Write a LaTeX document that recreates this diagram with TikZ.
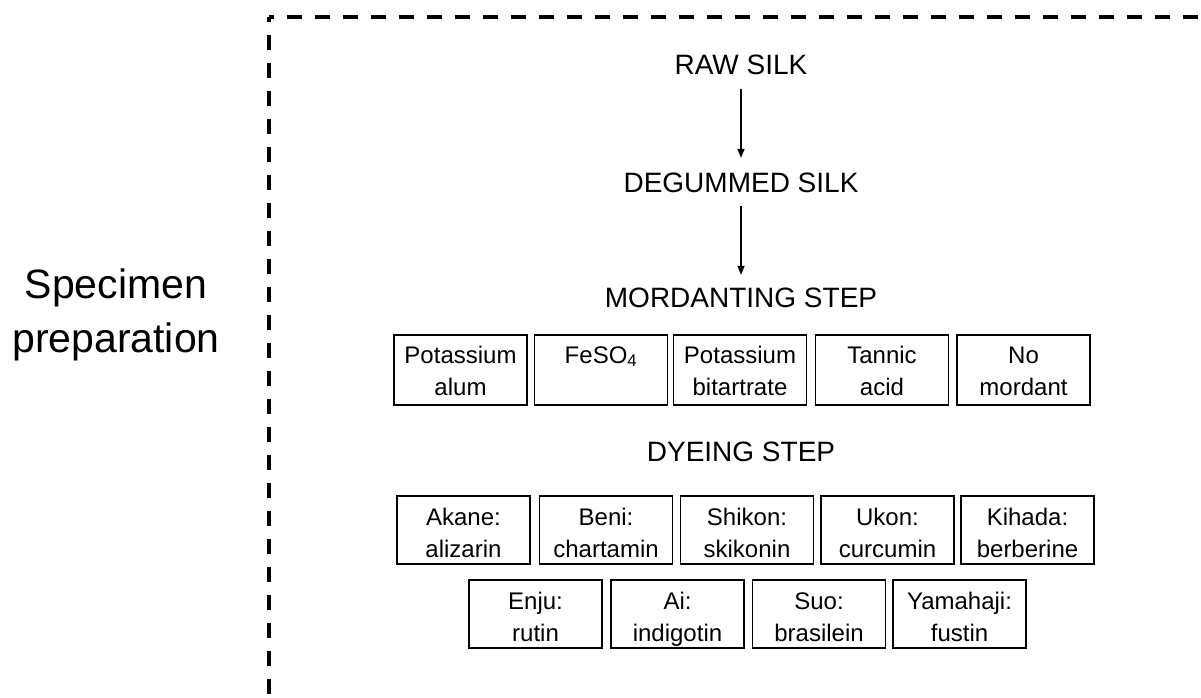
\documentclass[tikz,border=0pt]{standalone}
\usepackage{fontspec}
\setmainfont{Liberation Sans}
\usetikzlibrary{arrows.meta}
\begin{document}
\begin{tikzpicture}[x=1pt,y=-1pt,
 box/.style={draw,line width=1.6pt,minimum width=133pt,minimum height=70pt,inner sep=0pt,align=center,
   font=\fontsize{24}{32}\selectfont,text height=50pt,text depth=0pt},
 dbox/.style={box,minimum height=68pt,text height=55pt,text depth=0pt},
 head/.style={font=\fontsize{28}{30}\selectfont,inner sep=0pt},
 arr/.style={line width=1.2pt,-{Triangle[length=9pt,width=7pt]}},
 border/.style={line width=4pt,dash pattern=on 15pt off 13pt,dash phase=10pt}]
\useasboundingbox (0,0) rectangle (1201,697);
% border
\coordinate (corner) at (269,17);
\coordinate (bend) at (269,720);
\coordinate (rend) at (1215,17);
\draw[border] (corner) -- (bend);
\draw[border] (corner) -- (rend);
% side label
\node[align=center,font=\fontsize{41}{54}\selectfont,inner sep=0pt,text height=84pt,text depth=10pt] (spec) at (116,315) {Specimen\\preparation};
% headings
\node[head] (raw) at (741,65) {RAW SILK};
\node[head] (deg) at (741,183) {DEGUMMED SILK};
\node[head] (mord) at (741,298) {MORDANTING STEP};
\node[head] (dye) at (741,452) {DYEING STEP};
\draw[arr,shorten <=14pt,shorten >=15pt] (raw) -- (deg);
\draw[arr,shorten <=13pt,shorten >=13pt] (deg) -- (mord);
% mordants
\node[box] (m1) at (460.5,370) {Potassium\\alum};
\node[box] (m2) at (601,370) {FeSO\textsubscript{4}\\\phantom{alum}};
\node[box] (m3) at (740,370) {Potassium\\bitartrate};
\node[box] (m4) at (882,370) {Tannic\\acid};
\node[box] (m5) at (1023.5,370) {No\\mordant};
% dyes row 1
\node[dbox] (d1) at (463.5,530) {Akane:\\alizarin};
\node[dbox] (d2) at (606,530) {Beni:\\chartamin};
\node[dbox] (d3) at (747,530) {Shikon:\\skikonin};
\node[dbox] (d4) at (887.5,530) {Ukon:\\curcumin};
\node[dbox] (d5) at (1027.5,530) {Kihada:\\berberine};
% dyes row 2
\node[dbox] (e1) at (535.5,614) {Enju:\\rutin};
\node[dbox] (e2) at (677.5,614) {Ai:\\indigotin};
\node[dbox] (e3) at (819,614) {Suo:\\brasilein};
\node[dbox] (e4) at (959.5,614) {Yamahaji:\\fustin};
\end{tikzpicture}
\end{document}
